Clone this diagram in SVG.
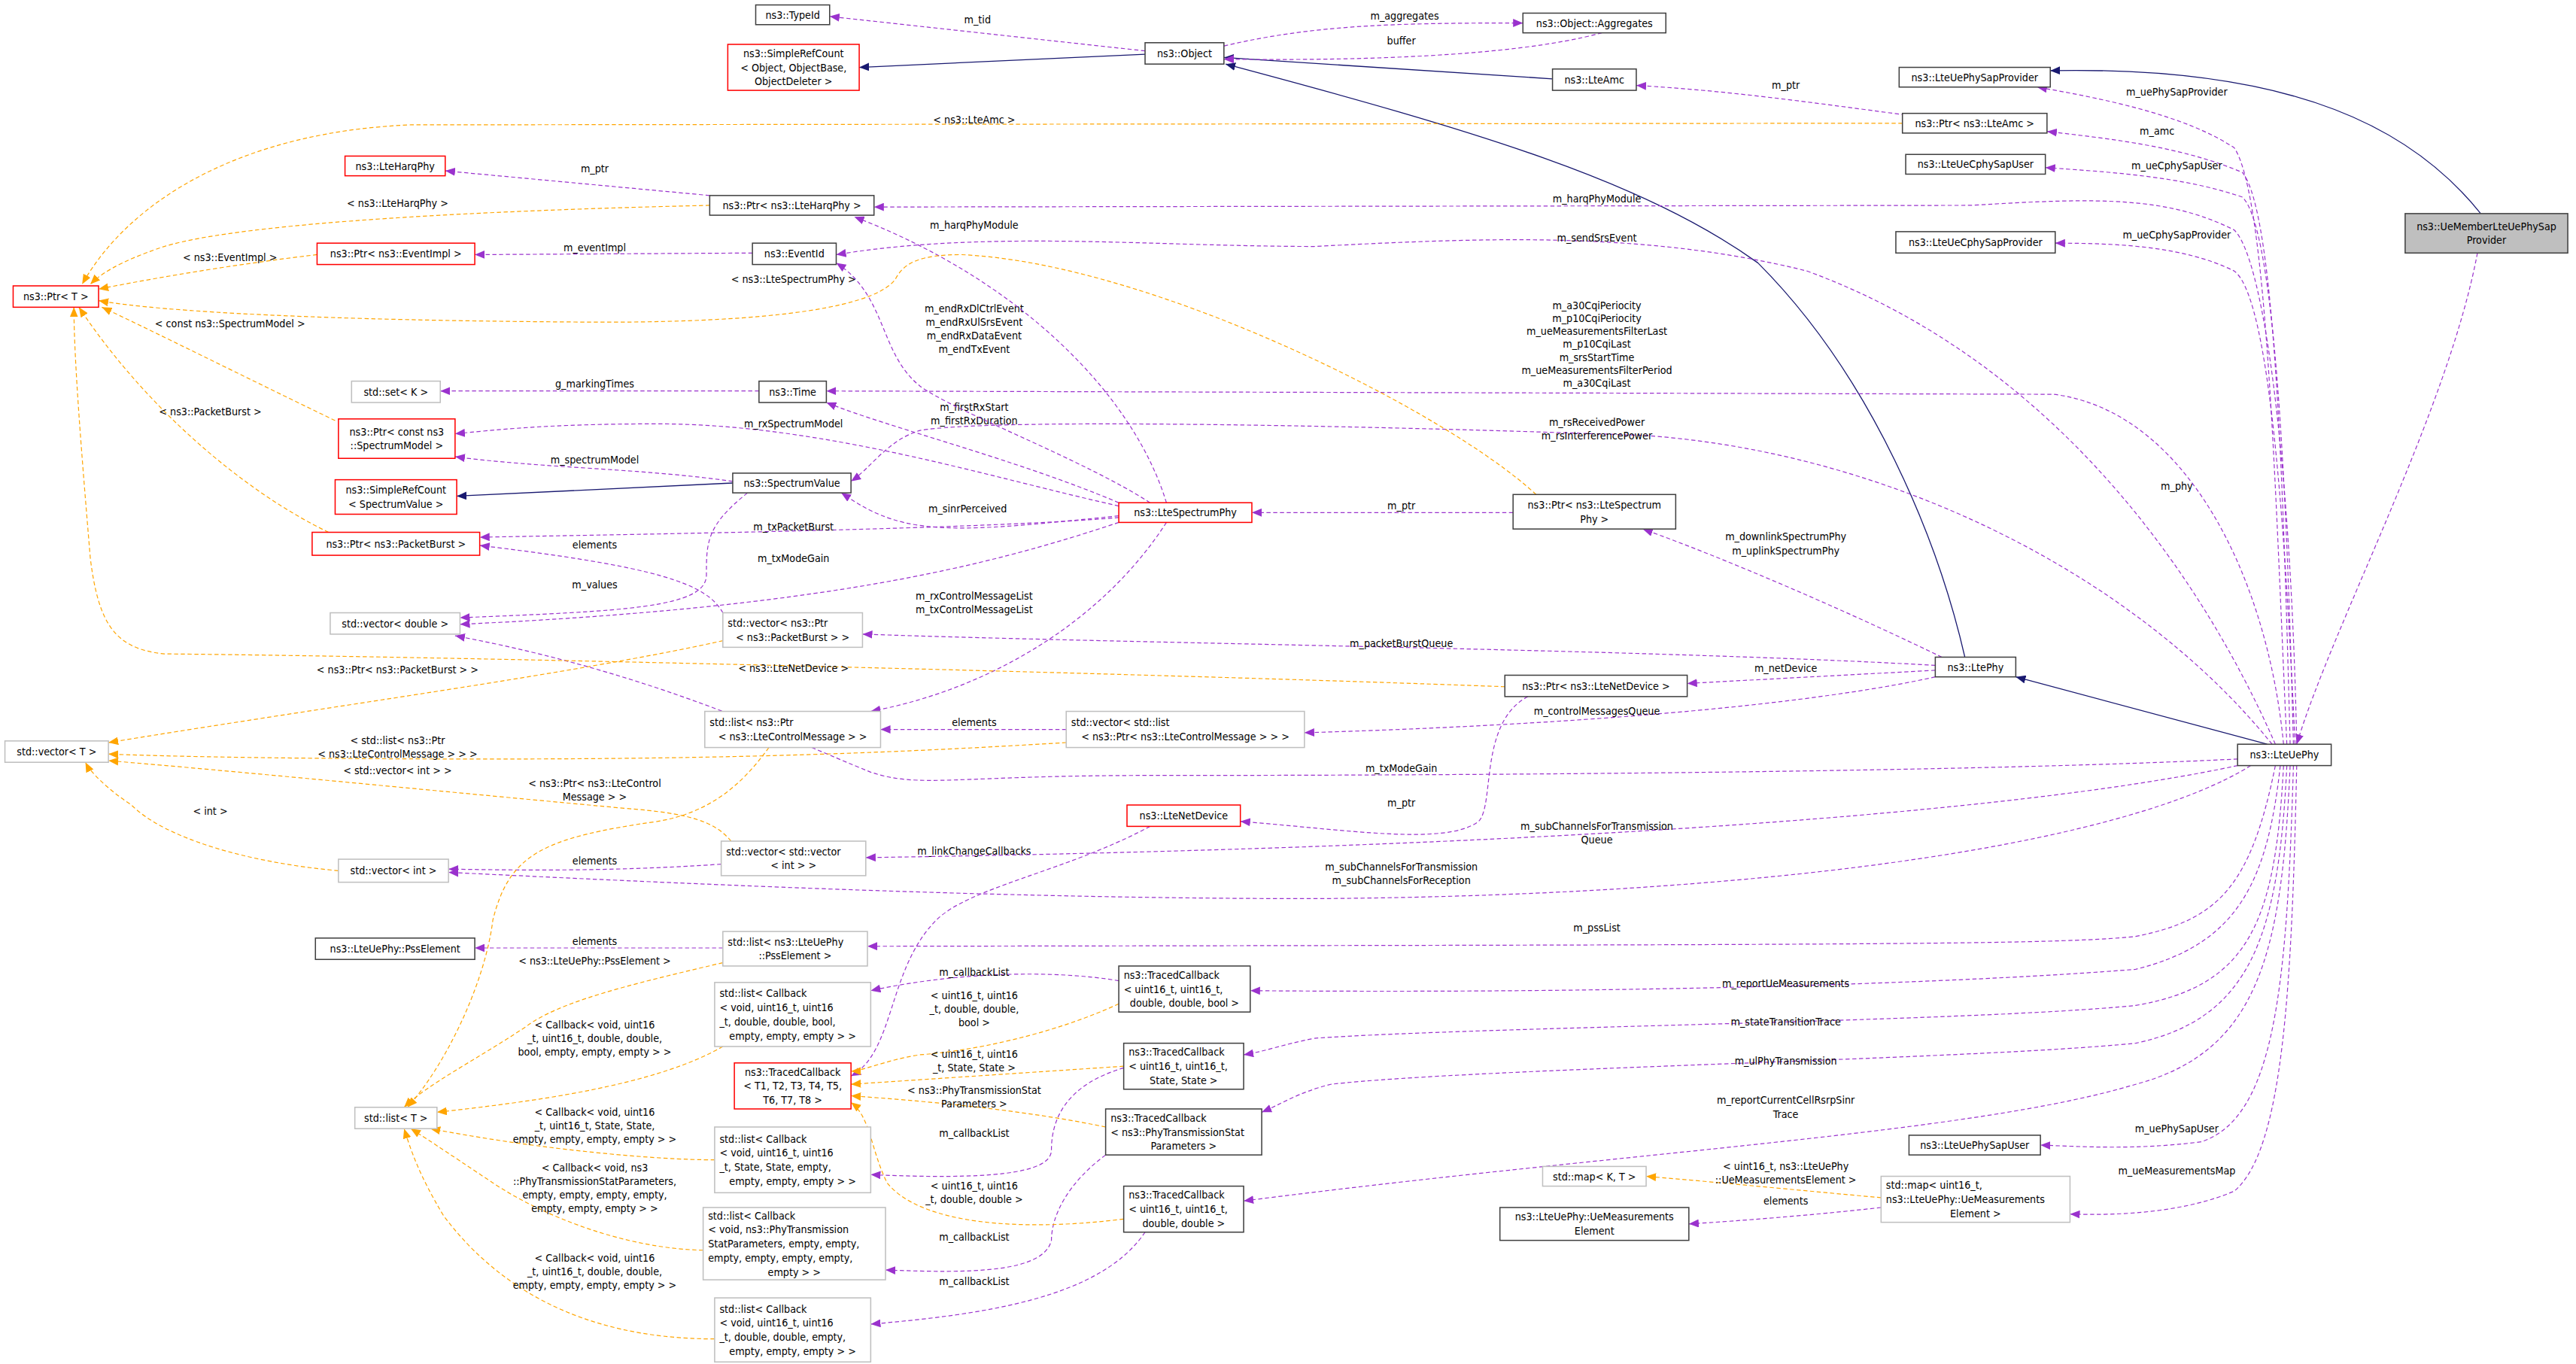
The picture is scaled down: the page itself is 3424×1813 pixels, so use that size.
<svg xmlns="http://www.w3.org/2000/svg" width="3424" height="1813" viewBox="0 0 3424 1813">
<style>
text{font-family:"DejaVu Sans Condensed","DejaVu Sans",sans-serif;font-size:6.5px;fill:#000}
.c{text-anchor:middle}
.k{fill:#fff;stroke:#404040;stroke-width:0.7}
.r{fill:#fff;stroke:#ff0000;stroke-width:0.7}
.g{fill:#fff;stroke:#bfbfbf;stroke-width:0.7}
.s{fill:#bfbfbf;stroke:#404040;stroke-width:0.7}
.e{fill:none;stroke:#9a32cd;stroke-width:0.55;stroke-dasharray:2.5,1.6}
.o{fill:none;stroke:#ffa500;stroke-width:0.55;stroke-dasharray:2.5,1.6}
.b{fill:none;stroke:#191970;stroke-width:0.6}
</style>
<defs>
<marker id="ap" markerUnits="userSpaceOnUse" markerWidth="6" markerHeight="5" refX="6" refY="2.5" orient="auto"><path d="M0,0L6,2.5L0,5z" fill="#9a32cd"/></marker>
<marker id="ao" markerUnits="userSpaceOnUse" markerWidth="6" markerHeight="5" refX="6" refY="2.5" orient="auto"><path d="M0,0L6,2.5L0,5z" fill="#ffa500"/></marker>
<marker id="ab" markerUnits="userSpaceOnUse" markerWidth="6" markerHeight="5" refX="6" refY="2.5" orient="auto"><path d="M0,0L6,2.5L0,5z" fill="#191970"/></marker>
</defs>
<rect width="3424" height="1813" fill="#fff"/>
<g transform="scale(2.18367)">
<g id="edges">
<path class="b" marker-end="url(#ab)" d="M697,33L523,41"/>
<path class="b" marker-end="url(#ab)" d="M945,48L745,35"/>
<path class="b" marker-end="url(#ab)" d="M1196,400C1180,330 1140,230 1070,160C1000,110 900,80 746,39"/>
<path class="b" marker-end="url(#ab)" d="M1380,453L1227,412"/>
<path class="b" marker-end="url(#ab)" d="M1510,130C1470,80 1400,40 1248,43"/>
<path class="b" marker-end="url(#ab)" d="M446,294L278,302"/>

<path class="e" marker-end="url(#ap)" d="M697,31L505,10"/><text class="c" x="595" y="14">m_tid</text>
<path class="e" marker-end="url(#ap)" d="M745,28C800,15 850,14 927,14"/><text class="c" x="855" y="12">m_aggregates</text>
<path class="e" marker-end="url(#ap)" d="M975,20C920,35 820,37 745,36"/><text class="c" x="853" y="27">buffer</text>
<path class="e" marker-end="url(#ap)" d="M1160,70C1100,62 1050,55 996,52"/><text class="c" x="1087" y="54">m_ptr</text>
<path class="e" marker-end="url(#ap)" d="M432,119L271,104"/><text class="c" x="362" y="105">m_ptr</text>
<path class="e" marker-end="url(#ap)" d="M458,154L289,155"/><text class="c" x="362" y="153">m_eventImpl</text>
<path class="e" marker-end="url(#ap)" d="M462,238L268,238"/><text class="c" x="362" y="236">g_markingTimes</text>
<path class="e" marker-end="url(#ap)" d="M446,293C390,285 330,285 277,278"/><text class="c" x="362" y="282">m_spectrumModel</text>
<path class="e" marker-end="url(#ap)" d="M681,315C600,322 400,325 292,327"/><text class="c" x="483" y="323">m_txPacketBurst</text>
<path class="e" marker-end="url(#ap)" d="M440,373C430,355 400,345 292,332"/><text class="c" x="362" y="334">elements</text>
<path class="e" marker-end="url(#ap)" d="M455,300C430,320 430,330 430,350C430,370 380,372 280,376"/><text class="c" x="362" y="358">m_values</text>
<path class="e" marker-end="url(#ap)" d="M681,318C600,345 500,370 280,380"/><text class="c" x="483" y="342">m_txModeGain</text>
<path class="e" marker-end="url(#ap)" d="M681,314C620,320 580,325 550,318C530,313 520,305 512,300"/><text class="c" x="589" y="312">m_sinrPerceived</text>
<path class="e" marker-end="url(#ap)" d="M681,308C600,290 500,258 400,258C330,258 300,262 277,264"/><text class="c" x="483" y="260">m_rxSpectrumModel</text>
<path class="e" marker-end="url(#ap)" d="M681,306C620,280 540,260 503,245"/><text class="c" x="593" y="250">m_firstRxStart<tspan x="593" dy="8.3">m_firstRxDuration</tspan></text>
<path class="e" marker-end="url(#ap)" d="M700,306C660,280 580,250 560,235C535,215 540,180 509,160"/><text class="c" x="593" y="190">m_endRxDlCtrlEvent<tspan x="593" dy="8.3">m_endRxUlSrsEvent</tspan><tspan x="593" dy="8.3">m_endRxDataEvent</tspan><tspan x="593" dy="8.3">m_endTxEvent</tspan></text>
<path class="e" marker-end="url(#ap)" d="M710,306C690,240 620,170 520,132"/><text class="c" x="593" y="139">m_harqPhyModule</text>
<path class="e" marker-end="url(#ap)" d="M710,318C670,380 600,420 530,433"/><text class="c" x="593" y="365">m_rxControlMessageList<tspan x="593" dy="8.3">m_txControlMessageList</tspan></text>
<path class="e" marker-end="url(#ap)" d="M921,312L762,312"/><text class="c" x="853" y="310">m_ptr</text>
<path class="e" marker-end="url(#ap)" d="M1182,400C1120,370 1050,340 1000,322"/><text class="c" x="1087" y="329">m_downlinkSpectrumPhy<tspan x="1087" dy="8.3">m_uplinkSpectrumPhy</tspan></text>
<path class="e" marker-end="url(#ap)" d="M1178,405C1000,395 700,392 525,386"/><text class="c" x="853" y="394">m_packetBurstQueue</text>
<path class="e" marker-end="url(#ap)" d="M1178,408L1027,416"/><text class="c" x="1087" y="409">m_netDevice</text>
<path class="e" marker-end="url(#ap)" d="M1178,412C1120,425 1000,440 794,446"/><text class="c" x="972" y="435">m_controlMessagesQueue</text>
<path class="e" marker-end="url(#ap)" d="M649,444L536,444"/><text class="c" x="593" y="442">elements</text>
<path class="e" marker-end="url(#ap)" d="M930,424C900,440 910,490 900,500C880,515 820,505 755,500"/><text class="c" x="853" y="491">m_ptr</text>
<path class="e" marker-end="url(#ap)" d="M700,503C650,530 590,540 570,560C540,590 545,640 518,655"/><text class="c" x="593" y="520">m_linkChangeCallbacks</text>

<path class="e" marker-end="url(#ap)" d="M1392,453C1385,300 1380,120 1360,90C1330,70 1280,60 1240,53"/><text class="c" x="1325" y="58">m_uePhySapProvider</text>
<path class="e" marker-end="url(#ap)" d="M1394,453C1390,300 1385,130 1365,105C1330,90 1290,85 1246,80"/><text class="c" x="1313" y="82">m_amc</text>
<path class="e" marker-end="url(#ap)" d="M1396,453C1392,300 1385,140 1365,120C1330,108 1290,105 1245,102"/><text class="c" x="1325" y="103">m_ueCphySapUser</text>
<path class="e" marker-end="url(#ap)" d="M1398,453C1395,300 1380,160 1360,140C1320,120 1280,120 1200,125L532,126"/><text class="c" x="972" y="123">m_harqPhyModule</text>
<path class="e" marker-end="url(#ap)" d="M1397,453C1390,300 1380,180 1360,165C1330,150 1290,148 1251,148"/><text class="c" x="1325" y="145">m_ueCphySapProvider</text>
<path class="e" marker-end="url(#ap)" d="M1385,453C1340,350 1250,220 1100,165C1000,140 900,145 800,150C700,150 600,140 509,155"/><text class="c" x="972" y="147">m_sendSrsEvent</text>
<path class="e" marker-end="url(#ap)" d="M1390,453C1380,350 1330,250 1250,240L503,238"/><text class="c" x="972" y="188">m_a30CqiPeriocity<tspan x="972" dy="7.9">m_p10CqiPeriocity</tspan><tspan x="972" dy="7.9">m_ueMeasurementsFilterLast</tspan><tspan x="972" dy="7.9">m_p10CqiLast</tspan><tspan x="972" dy="7.9">m_srsStartTime</tspan><tspan x="972" dy="7.9">m_ueMeasurementsFilterPeriod</tspan><tspan x="972" dy="7.9">m_a30CqiLast</tspan></text>
<path class="e" marker-end="url(#ap)" d="M1383,453C1300,350 1150,275 1000,265C800,258 600,255 560,262C540,268 530,285 518,293"/><text class="c" x="972" y="259">m_rsReceivedPower<tspan x="972" dy="8.3">m_rsInterferencePower</tspan></text>
<path class="e" marker-end="url(#ap)" d="M1362,462C1200,470 900,472 700,472C580,472 560,480 530,470C480,450 400,410 277,387"/><text class="c" x="853" y="470">m_txModeGain</text>
<path class="e" marker-end="url(#ap)" d="M1362,466C1250,490 1000,515 527,522"/><text class="c" x="972" y="505">m_subChannelsForTransmission<tspan x="972" dy="8.3">Queue</tspan></text>
<path class="e" marker-end="url(#ap)" d="M1370,466C1300,510 1100,545 800,547C600,547 400,537 273,531"/><text class="c" x="853" y="530">m_subChannelsForTransmission<tspan x="853" dy="8.3">m_subChannelsForReception</tspan></text>
<path class="e" marker-end="url(#ap)" d="M1385,466C1370,540 1350,560 1300,570C1250,575 1150,575 528,576"/><text class="c" x="972" y="567">m_pssList</text>
<path class="e" marker-end="url(#ap)" d="M1388,466C1380,540 1360,575 1300,590C1200,598 1000,605 761,603"/><text class="c" x="1087" y="601">m_reportUeMeasurements</text>
<path class="e" marker-end="url(#ap)" d="M1390,466C1385,560 1370,600 1300,612C1200,622 900,625 800,632C780,636 770,640 757,642"/><text class="c" x="1087" y="624">m_stateTransitionTrace</text>
<path class="e" marker-end="url(#ap)" d="M1392,466C1387,570 1370,620 1300,635C1200,645 900,650 810,660C790,665 780,672 768,677"/><text class="c" x="1087" y="648">m_ulPhyTransmission</text>
<path class="e" marker-end="url(#ap)" d="M1394,466C1389,580 1375,640 1300,660C1200,690 1000,700 757,731"/><text class="c" x="1087" y="672">m_reportCurrentCellRsrpSinr<tspan x="1087" dy="8.3">Trace</tspan></text>
<path class="e" marker-end="url(#ap)" d="M1396,466C1392,600 1385,680 1340,695C1300,700 1270,698 1242,697"/><text class="c" x="1325" y="689">m_uePhySapUser</text>
<path class="e" marker-end="url(#ap)" d="M1398,466C1395,600 1390,700 1360,725C1330,738 1290,740 1260,739"/><text class="c" x="1325" y="715">m_ueMeasurementsMap</text>
<path class="e" marker-end="url(#ap)" d="M1508,154C1490,250 1420,380 1398,453"/><text class="c" x="1325" y="298">m_phy</text>

<path class="e" marker-end="url(#ap)" d="M681,597C640,590 580,592 530,603"/><text class="c" x="593" y="594">m_callbackList</text>
<path class="e" marker-end="url(#ap)" d="M684,650C650,660 640,680 640,700C640,715 600,718 530,715"/><text class="c" x="593" y="692">m_callbackList</text>
<path class="e" marker-end="url(#ap)" d="M673,703C650,720 640,740 640,755C635,775 590,775 539,773"/><text class="c" x="593" y="755">m_callbackList</text>
<path class="e" marker-end="url(#ap)" d="M697,750C670,790 600,800 530,806"/><text class="c" x="593" y="782">m_callbackList</text>
<path class="e" marker-end="url(#ap)" d="M1145,735C1100,740 1060,743 1028,745"/><text class="c" x="1087" y="733">elements</text>
<path class="e" marker-end="url(#ap)" d="M440,577L289,577"/><text class="c" x="362" y="575">elements</text>
<path class="e" marker-end="url(#ap)" d="M439,526C380,530 330,530 273,529"/><text class="c" x="362" y="526">elements</text>

<path class="o" marker-end="url(#ao)" d="M1158,75L250,76C150,80 80,120 50,173"/><text class="c" x="593" y="75">&lt; ns3::LteAmc &gt;</text>
<path class="o" marker-end="url(#ao)" d="M432,125C300,128 150,135 100,150C70,160 60,168 55,173"/><text class="c" x="242" y="126">&lt; ns3::LteHarqPhy &gt;</text>
<path class="o" marker-end="url(#ao)" d="M193,155C150,160 100,168 60,176"/><text class="c" x="140" y="159">&lt; ns3::EventImpl &gt;</text>
<path class="o" marker-end="url(#ao)" d="M935,301C880,250 700,160 585,155C560,155 550,160 545,170C530,190 450,197 350,196C200,195 100,190 60,183"/><text class="c" x="483" y="172">&lt; ns3::LteSpectrumPhy &gt;</text>
<path class="o" marker-end="url(#ao)" d="M204,256C150,230 90,200 62,187"/><text class="c" x="140" y="199">&lt; const ns3::SpectrumModel &gt;</text>
<path class="o" marker-end="url(#ao)" d="M200,324C150,300 90,250 48,187"/><text class="c" x="128" y="253">&lt; ns3::PacketBurst &gt;</text>
<path class="o" marker-end="url(#ao)" d="M916,418C700,410 300,400 100,398C70,395 60,380 55,340C50,280 45,220 45,187"/><text class="c" x="483" y="409">&lt; ns3::LteNetDevice &gt;</text>
<path class="o" marker-end="url(#ao)" d="M440,390C350,410 200,430 66,452"/><text class="c" x="242" y="410">&lt; ns3::Ptr&lt; ns3::PacketBurst &gt; &gt;</text>
<path class="o" marker-end="url(#ao)" d="M649,452C550,458 450,462 300,462C200,462 120,461 66,459"/><text class="c" x="242" y="453">&lt; std::list&lt; ns3::Ptr<tspan x="242" dy="8.3">&lt; ns3::LteControlMessage &gt; &gt; &gt;</tspan></text>
<path class="o" marker-end="url(#ao)" d="M445,512C435,500 420,495 380,492C250,480 150,470 66,463"/><text class="c" x="242" y="471">&lt; std::vector&lt; int &gt; &gt;</text>
<path class="o" marker-end="url(#ao)" d="M206,530C150,525 100,510 80,490C65,480 55,470 52,464"/><text class="c" x="128" y="496">&lt; int &gt;</text>
<path class="o" marker-end="url(#ao)" d="M468,455C450,480 430,495 400,500C330,510 310,520 300,560C295,600 270,650 248,674"/><text class="c" x="362" y="479">&lt; ns3::Ptr&lt; ns3::LteControl<tspan x="362" dy="8.3">Message &gt; &gt;</tspan></text>
<path class="o" marker-end="url(#ao)" d="M440,586C380,600 340,610 320,625C290,645 260,660 246,674"/><text class="c" x="362" y="587">&lt; ns3::LteUePhy::PssElement &gt;</text>
<path class="o" marker-end="url(#ao)" d="M440,637C400,660 330,670 266,677"/><text class="c" x="362" y="626">&lt; Callback&lt; void, uint16<tspan x="362" dy="8.3">_t, uint16_t, double, double,</tspan><tspan x="362" dy="8.3">bool, empty, empty, empty &gt; &gt;</tspan></text>
<path class="o" marker-end="url(#ao)" d="M435,706C400,706 330,700 262,687"/><text class="c" x="362" y="679">&lt; Callback&lt; void, uint16<tspan x="362" dy="8.3">_t, uint16_t, State, State,</tspan><tspan x="362" dy="8.3">empty, empty, empty, empty &gt; &gt;</tspan></text>
<path class="o" marker-end="url(#ao)" d="M428,761C380,760 330,740 300,720C270,700 255,690 250,687"/><text class="c" x="362" y="713">&lt; Callback&lt; void, ns3<tspan x="362" dy="8.3">::PhyTransmissionStatParameters,</tspan><tspan x="362" dy="8.3">empty, empty, empty, empty,</tspan><tspan x="362" dy="8.3">empty, empty, empty &gt; &gt;</tspan></text>
<path class="o" marker-end="url(#ao)" d="M435,815C350,815 300,780 270,740C255,715 250,700 246,687"/><text class="c" x="362" y="768">&lt; Callback&lt; void, uint16<tspan x="362" dy="8.3">_t, uint16_t, double, double,</tspan><tspan x="362" dy="8.3">empty, empty, empty, empty &gt; &gt;</tspan></text>
<path class="o" marker-end="url(#ao)" d="M681,611C640,630 590,640 560,642C540,645 525,652 518,652"/><text class="c" x="593" y="608">&lt; uint16_t, uint16<tspan x="593" dy="8.3">_t, double, double,</tspan><tspan x="593" dy="8.3">bool &gt;</tspan></text>
<path class="o" marker-end="url(#ao)" d="M684,649L518,660"/><text class="c" x="593" y="644">&lt; uint16_t, uint16<tspan x="593" dy="8.3">_t, State, State &gt;</tspan></text>
<path class="o" marker-end="url(#ao)" d="M673,686C620,675 560,670 518,667"/><text class="c" x="593" y="666">&lt; ns3::PhyTransmissionStat<tspan x="593" dy="8.3">Parameters &gt;</tspan></text>
<path class="o" marker-end="url(#ao)" d="M684,742C620,750 560,745 540,720C530,700 530,680 518,671"/><text class="c" x="593" y="724">&lt; uint16_t, uint16<tspan x="593" dy="8.3">_t, double, double &gt;</tspan></text>
<path class="o" marker-end="url(#ao)" d="M1145,729C1100,725 1050,720 1002,716"/><text class="c" x="1087" y="712">&lt; uint16_t, ns3::LteUePhy<tspan x="1087" dy="8.3">::UeMeasurementsElement &gt;</tspan></text>
</g>

<g id="n1"><rect class="k" x="460" y="3" width="45" height="12"/><text class="c" x="482.5" y="11.3">ns3::TypeId</text></g>
<g id="n2"><rect class="r" x="443" y="27" width="80" height="28"/><text class="c" x="483" y="34.7">ns3::SimpleRefCount<tspan x="483" dy="8.6">&lt; Object, ObjectBase,</tspan><tspan x="483" dy="8.6">ObjectDeleter &gt;</tspan></text></g>
<g id="n3"><rect class="k" x="697" y="26" width="48" height="13"/><text class="c" x="721" y="34.8">ns3::Object</text></g>
<g id="n4"><rect class="k" x="927" y="8" width="87" height="12"/><text class="c" x="970.5" y="16.3">ns3::Object::Aggregates</text></g>
<g id="n5"><rect class="k" x="945" y="42" width="51" height="13"/><text class="c" x="970.5" y="50.8">ns3::LteAmc</text></g>
<g id="n6"><rect class="k" x="1156" y="41" width="92" height="12"/><text class="c" x="1202" y="49.3">ns3::LteUePhySapProvider</text></g>
<g id="n7"><rect class="k" x="1158" y="69" width="88" height="12"/><text class="c" x="1202" y="77.3">ns3::Ptr&lt; ns3::LteAmc &gt;</text></g>
<g id="n8"><rect class="k" x="1160" y="94" width="85" height="12"/><text class="c" x="1202.5" y="102.3">ns3::LteUeCphySapUser</text></g>
<g id="n9"><rect class="k" x="1154" y="141" width="97" height="13"/><text class="c" x="1202.5" y="149.8">ns3::LteUeCphySapProvider</text></g>
<g id="n10"><rect class="s" x="1464" y="130" width="99" height="24"/><text class="c" x="1513.5" y="140">ns3::UeMemberLteUePhySap<tspan x="1513.5" dy="8.6">Provider</tspan></text></g>
<g id="n11"><rect class="r" x="210" y="95" width="61" height="12"/><text class="c" x="240.5" y="103.3">ns3::LteHarqPhy</text></g>
<g id="n12"><rect class="k" x="432" y="119" width="100" height="12"/><text class="c" x="482" y="127.3">ns3::Ptr&lt; ns3::LteHarqPhy &gt;</text></g>
<g id="n13"><rect class="r" x="8" y="174" width="52" height="13"/><text class="c" x="34" y="182.8">ns3::Ptr&lt; T &gt;</text></g>
<g id="n14"><rect class="r" x="193" y="148" width="96" height="13"/><text class="c" x="241" y="156.8">ns3::Ptr&lt; ns3::EventImpl &gt;</text></g>
<g id="n15"><rect class="k" x="458" y="148" width="51" height="13"/><text class="c" x="483.5" y="156.8">ns3::EventId</text></g>
<g id="n16"><rect class="g" x="214" y="232" width="54" height="13"/><text class="c" x="241" y="240.8">std::set&lt; K &gt;</text></g>
<g id="n17"><rect class="k" x="462" y="232" width="41" height="13"/><text class="c" x="482.5" y="240.8">ns3::Time</text></g>
<g id="n18"><rect class="r" x="206" y="255" width="71" height="24"/><text class="c" x="241.5" y="265">ns3::Ptr&lt; const ns3<tspan x="241.5" dy="8.6">::SpectrumModel &gt;</tspan></text></g>
<g id="n19"><rect class="k" x="446" y="288" width="72" height="12"/><text class="c" x="482" y="296.3">ns3::SpectrumValue</text></g>
<g id="n20"><rect class="r" x="204" y="292" width="74" height="21"/><text class="c" x="241" y="300.5">ns3::SimpleRefCount<tspan x="241" dy="8.6">&lt; SpectrumValue &gt;</tspan></text></g>
<g id="n21"><rect class="r" x="190" y="324" width="102" height="14"/><text class="c" x="241" y="333.3">ns3::Ptr&lt; ns3::PacketBurst &gt;</text></g>
<g id="n22"><rect class="r" x="681" y="306" width="81" height="12"/><text class="c" x="721.5" y="314.3">ns3::LteSpectrumPhy</text></g>
<g id="n23"><rect class="k" x="921" y="301" width="99" height="21"/><text class="c" x="970.5" y="309.5">ns3::Ptr&lt; ns3::LteSpectrum<tspan x="970.5" dy="8.6">Phy &gt;</tspan></text></g>
<g id="n24"><rect class="g" x="201" y="373" width="79" height="13"/><text class="c" x="240.5" y="381.8">std::vector&lt; double &gt;</text></g>
<g id="n25"><rect class="g" x="440" y="373" width="85" height="21"/><text x="443" y="381.5">std::vector&lt; ns3::Ptr</text><text class="c" x="482.5" y="390.1">&lt; ns3::PacketBurst &gt; &gt;</text></g>
<g id="n26"><rect class="k" x="1178" y="400" width="49" height="12"/><text class="c" x="1202.5" y="408.3">ns3::LtePhy</text></g>
<g id="n27"><rect class="k" x="916" y="411" width="111" height="13"/><text class="c" x="971.5" y="419.8">ns3::Ptr&lt; ns3::LteNetDevice &gt;</text></g>
<g id="n28"><rect class="g" x="3" y="451" width="63" height="13"/><text class="c" x="34.5" y="459.8">std::vector&lt; T &gt;</text></g>
<g id="n29"><rect class="g" x="429" y="433" width="107" height="22"/><text x="432" y="442">std::list&lt; ns3::Ptr</text><text class="c" x="482.5" y="450.6">&lt; ns3::LteControlMessage &gt; &gt;</text></g>
<g id="n30"><rect class="g" x="649" y="433" width="145" height="22"/><text x="652" y="442">std::vector&lt; std::list</text><text class="c" x="721.5" y="450.6">&lt; ns3::Ptr&lt; ns3::LteControlMessage &gt; &gt; &gt;</text></g>
<g id="n31"><rect class="k" x="1362" y="453" width="57" height="13"/><text class="c" x="1390.5" y="461.8">ns3::LteUePhy</text></g>
<g id="n32"><rect class="r" x="686" y="490" width="69" height="13"/><text class="c" x="720.5" y="498.8">ns3::LteNetDevice</text></g>
<g id="n33"><rect class="g" x="206" y="523" width="67" height="14"/><text class="c" x="239.5" y="532.3">std::vector&lt; int &gt;</text></g>
<g id="n34"><rect class="g" x="439" y="512" width="88" height="21"/><text x="442" y="520.5">std::vector&lt; std::vector</text><text class="c" x="483" y="529.1">&lt; int &gt; &gt;</text></g>
<g id="n35"><rect class="k" x="192" y="571" width="97" height="13"/><text class="c" x="240.5" y="579.8">ns3::LteUePhy::PssElement</text></g>
<g id="n36"><rect class="g" x="440" y="567" width="88" height="21"/><text x="443" y="575.5">std::list&lt; ns3::LteUePhy</text><text class="c" x="484" y="584.1">::PssElement &gt;</text></g>
<g id="n37"><rect class="g" x="435" y="598" width="95" height="39"/><text x="438" y="606.9">std::list&lt; Callback<tspan x="438" dy="8.6">&lt; void, uint16_t, uint16</tspan><tspan x="438" dy="8.6">_t, double, double, bool,</tspan></text><text class="c" x="482.5" y="632.7">empty, empty, empty &gt; &gt;</text></g>
<g id="n38"><rect class="k" x="681" y="588" width="80" height="28"/><text x="684" y="595.7">ns3::TracedCallback<tspan x="684" dy="8.6">&lt; uint16_t, uint16_t,</tspan></text><text class="c" x="721" y="612.9">double, double, bool &gt;</text></g>
<g id="n39"><rect class="r" x="447" y="647" width="71" height="28"/><text class="c" x="482.5" y="654.7">ns3::TracedCallback<tspan x="482.5" dy="8.6">&lt; T1, T2, T3, T4, T5,</tspan><tspan x="482.5" dy="8.6">T6, T7, T8 &gt;</tspan></text></g>
<g id="n40"><rect class="k" x="684" y="635" width="73" height="28"/><text x="687" y="642.7">ns3::TracedCallback<tspan x="687" dy="8.6">&lt; uint16_t, uint16_t,</tspan></text><text class="c" x="720.5" y="659.9">State, State &gt;</text></g>
<g id="n41"><rect class="k" x="673" y="675" width="95" height="28"/><text x="676" y="682.7">ns3::TracedCallback<tspan x="676" dy="8.6">&lt; ns3::PhyTransmissionStat</tspan></text><text class="c" x="720.5" y="699.9">Parameters &gt;</text></g>
<g id="n42"><rect class="g" x="216" y="674" width="50" height="13"/><text class="c" x="241" y="682.8">std::list&lt; T &gt;</text></g>
<g id="n43"><rect class="g" x="435" y="686" width="95" height="40"/><text x="438" y="695.4">std::list&lt; Callback<tspan x="438" dy="8.6">&lt; void, uint16_t, uint16</tspan><tspan x="438" dy="8.6">_t, State, State, empty,</tspan></text><text class="c" x="482.5" y="721.2">empty, empty, empty &gt; &gt;</text></g>
<g id="n44"><rect class="g" x="428" y="735" width="111" height="44"/><text x="431" y="742.1">std::list&lt; Callback<tspan x="431" dy="8.6">&lt; void, ns3::PhyTransmission</tspan><tspan x="431" dy="8.6">StatParameters, empty, empty,</tspan><tspan x="431" dy="8.6">empty, empty, empty, empty,</tspan></text><text class="c" x="483.5" y="776.5">empty &gt; &gt;</text></g>
<g id="n45"><rect class="k" x="684" y="722" width="73" height="28"/><text x="687" y="729.7">ns3::TracedCallback<tspan x="687" dy="8.6">&lt; uint16_t, uint16_t,</tspan></text><text class="c" x="720.5" y="746.9">double, double &gt;</text></g>
<g id="n46"><rect class="g" x="435" y="790" width="95" height="39"/><text x="438" y="798.9">std::list&lt; Callback<tspan x="438" dy="8.6">&lt; void, uint16_t, uint16</tspan><tspan x="438" dy="8.6">_t, double, double, empty,</tspan></text><text class="c" x="482.5" y="824.7">empty, empty, empty &gt; &gt;</text></g>
<g id="n47"><rect class="g" x="939" y="710" width="63" height="12"/><text class="c" x="970.5" y="718.3">std::map&lt; K, T &gt;</text></g>
<g id="n48"><rect class="k" x="913" y="735" width="115" height="20"/><text class="c" x="970.5" y="743">ns3::LteUePhy::UeMeasurements<tspan x="970.5" dy="8.6">Element</tspan></text></g>
<g id="n49"><rect class="g" x="1145" y="716" width="115" height="28"/><text x="1148" y="723.7">std::map&lt; uint16_t,<tspan x="1148" dy="8.6">ns3::LteUePhy::UeMeasurements</tspan></text><text class="c" x="1202.5" y="740.9">Element &gt;</text></g>
<g id="n50"><rect class="k" x="1162" y="691" width="80" height="12"/><text class="c" x="1202" y="699.3">ns3::LteUePhySapUser</text></g>
</g>
</svg>
